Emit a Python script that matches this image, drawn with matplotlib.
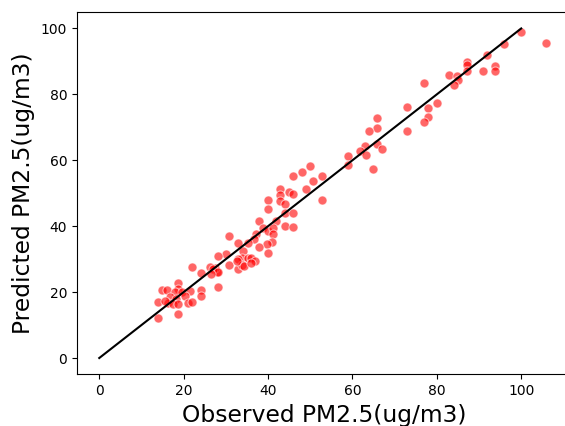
import numpy as np
import matplotlib
matplotlib.use('Agg')
import matplotlib.pyplot as plt

# observed vs predicted PM2.5
observed = [99.9, 105.8, 96.0, 91.9, 87.1, 87.1, 87.1, 93.9, 93.9, 91.0,
            82.9, 84.9, 85.1, 84.1, 76.9, 80.0, 78.0, 73.0, 78.0, 76.9,
            73.0, 65.9, 65.9, 64.0, 63.0, 61.8, 63.1, 65.9, 67.1, 64.9,
            59.0, 59.0, 49.9, 48.0, 52.9, 50.7, 46.0, 49.0, 52.8, 42.8,
            42.8, 44.9, 46.0, 42.8, 44.0, 40.1, 40.1, 44.0, 46.0, 42.0,
            44.0, 46.0, 37.8, 38.9, 40.0, 41.2, 41.2, 41.0, 39.7, 40.0,
            37.8, 37.1, 36.7, 35.3, 32.9, 30.7, 34.1, 33.9, 32.9, 35.3,
            35.9, 36.9, 30.0, 28.1, 30.7, 32.9, 33.9, 27.8, 27.4, 21.9,
            24.1, 26.2, 27.0, 28.1, 26.6, 28.1, 32.6, 34.4, 35.9, 18.7,
            18.7, 14.8, 16.0, 17.9, 19.5, 21.5, 24.1, 24.1, 20.3, 16.8,
            18.3, 14.0, 16.4, 17.5, 18.7, 21.1, 21.9, 15.6, 14.0, 18.7]
predicted = [99.0, 95.7, 95.3, 91.8, 89.8, 89.0, 87.0, 88.7, 87.0, 87.0,
             86.0, 85.7, 84.5, 82.8, 83.5, 77.3, 75.8, 76.2, 73.2, 71.5,
             68.8, 72.8, 69.8, 68.9, 64.3, 62.7, 61.7, 64.8, 63.3, 57.3,
             61.3, 58.7, 58.3, 56.3, 55.3, 53.8, 55.3, 51.3, 48.0, 51.4,
             49.6, 50.5, 49.9, 47.7, 46.8, 48.0, 45.3, 43.9, 43.9, 41.6,
             40.2, 39.9, 41.6, 39.6, 38.4, 39.4, 37.6, 35.2, 34.6, 31.9,
             33.6, 37.6, 36.2, 34.9, 34.9, 36.9, 32.4, 30.2, 29.9, 30.4,
             30.2, 29.4, 31.6, 30.9, 28.2, 26.9, 28.2, 26.2, 27.4, 27.7,
             25.7, 27.7, 27.1, 26.2, 25.4, 21.7, 29.4, 27.9, 28.7, 22.7,
             20.9, 20.7, 20.7, 19.9, 19.9, 20.4, 20.7, 18.7, 18.7, 18.4,
             17.9, 16.9, 16.7, 16.4, 16.4, 16.7, 16.9, 17.4, 12.2, 13.4]

fig = plt.figure(figsize=(5.65, 4.26), dpi=100)
ax = fig.add_axes([0.1361, 0.1209, 0.876, 0.851])

ax.scatter(observed, predicted, s=42, c='red', alpha=0.6,
           edgecolors='white', linewidths=0.75)
ax.plot([0, 100], [0, 100], color='black', linewidth=1.5)

ax.set_xlim(-5.3, 112)
ax.spines['right'].set_visible(False)  # falls outside the cropped figure anyway
ax.set_xlabel('Observed PM2.5(ug/m3)', fontsize=16.8)
ax.set_ylabel('Predicted PM2.5(ug/m3)', fontsize=16.8)
ax.set_xticks([0, 20, 40, 60, 80, 100])
ax.set_yticks([0, 20, 40, 60, 80, 100])

fig.savefig('out.png', dpi=100)
